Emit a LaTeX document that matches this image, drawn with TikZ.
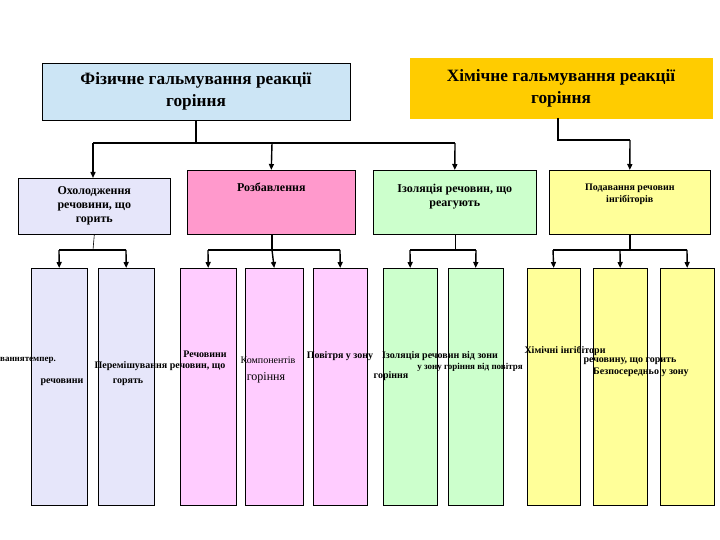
\documentclass[tikz,border=0pt]{standalone}
\usepackage{fontspec}
\setmainfont{Liberation Serif}
\usetikzlibrary{arrows.meta}
\definecolor{lblue}{HTML}{CCE5F5}\definecolor{gold}{HTML}{FFCC00}
\definecolor{lav}{HTML}{E6E6FA}\definecolor{pinkA}{HTML}{FF99CC}
\definecolor{pinkB}{HTML}{FFCCFF}\definecolor{grn}{HTML}{CCFFCC}\definecolor{yel}{HTML}{FFFF99}
\begin{document}
\begin{tikzpicture}[x=1pt,y=-1pt,
 box/.style={draw=black,line width=0.6pt,font=\bfseries\large,align=center},
 con/.style={line width=1.4pt},
 arr/.style={line width=1.4pt,-{Triangle[length=6pt,width=5pt]}},
 lbl/.style={font=\bfseries,align=center,inner sep=0pt}]
\useasboundingbox (0,0) rectangle (720,540);
\fill[white] (0,0) rectangle (720,540);
\node[box,fill=lblue,minimum width=308,minimum height=57,font=\bfseries\LARGE] (phys) at (196,91.5) {Фізичне гальмування реакції\\горіння};
\node[box,fill=gold,draw=gold,minimum width=302,minimum height=60,font=\bfseries\LARGE] (chem) at (561,88) {Хімічне гальмування реакції\\горіння};
\node[box,fill=lav,minimum width=152,minimum height=56,anchor=north west,inner sep=1pt] (cool) at (18,178) {Охолодження\\речовини, що\\горить};
\node[box,fill=pinkA,minimum width=168,minimum height=64,anchor=north west,text depth=30pt] (dil) at (187,170) {Розбавлення};
\node[box,fill=grn,minimum width=163,minimum height=64,anchor=north west,text depth=14pt] (iso) at (373,170) {Ізоляція речовин, що\\реагують};
\node[box,fill=yel,minimum width=161,minimum height=64,font=\bfseries,anchor=north west,text depth=18pt] (inh) at (549,170) {Подавання речовин\\інгібіторів};
\foreach \n/\a/\b/\c in {b1/31/87/lav,b2/98/154/lav,b3/180/236/pinkB,b4/245/303/pinkB,b5/313/367/pinkB,b6/383/437/grn,b7/448/503/grn,b8/527/580/yel,b9/593/647/yel,b10/660/714/yel}{
 \node[draw,fill=\c,minimum height=237,minimum width={\b-\a},inner sep=0pt,anchor=north west] (\n) at (\a,268) {};}
\coordinate (j1) at (196,143);
\draw[con] (phys.south) -- (j1);
\draw[con] (93,143) -- (455,143);
\draw[arr] (93,143) -- (93,178);
\draw[arr] (272,143) -- (dil.north);
\draw[arr] (455,143) -- (iso.north);
\draw[con] (558,118) -- (558,140) -- (630,140);
\draw[arr] (630,140) -- (inh.north);
\draw[line width=0.6pt] (cool.south) -- (93,250);
\draw[con] (59,250) -- (126,250);
\draw[arr] (59,250) -- (b1.north); \draw[arr] (126,250) -- (b2.north);
\draw[con] (272,234) -- (272,250); \draw[con] (208,250) -- (340,250);
\draw[arr] (208,250) -- (b3.north); \draw[arr] (272,250) -- (b4.north); \draw[arr] (340,250) -- (b5.north);
\draw[line width=0.6pt] (455,234) -- (455,250); \draw[con] (410,250) -- (476,250);
\draw[arr] (410,250) -- (b6.north); \draw[arr] (476,250) -- (b7.north);
\draw[con] (630,234) -- (630,250); \draw[con] (553,250) -- (687,250);
\draw[arr] (553,250) -- (b8.north); \draw[arr] (620,250) -- (b9.north); \draw[arr] (687,250) -- (b10.north);
\node[lbl,anchor=west,font=\bfseries\small] (t1) at (0,360) {ванняте\-мпер.};
\node[lbl] (t2) at (160,366) {Перемішування речовин, що};
\node[lbl] (t3) at (62,382) {речовини};
\node[lbl] (t4) at (128,382) {горять};
\node[lbl] (t5) at (205,354) {Речовини};
\node[lbl,font=\normalsize] (t6) at (268,360) {Компонентів};
\node[lbl] (t7) at (340,356) {Повітря у зону};
\node[lbl,font=\large] (t8) at (266,378) {горіння};
\node[lbl] (t9) at (440,356) {Ізоляція речовин від зони};
\node[lbl,font=\bfseries\small] (t10) at (470,367) {у зону горіння від повітря};
\node[lbl] (t11) at (391,376) {горіння};
\node[lbl] (t12) at (565,351) {Хімічні інгібітори};
\node[lbl] (t13) at (630,361) {речовину, що горить};
\node[lbl,anchor=west] (t14) at (593,372) {Безпосередньо у зону};
\end{tikzpicture}
\end{document}
